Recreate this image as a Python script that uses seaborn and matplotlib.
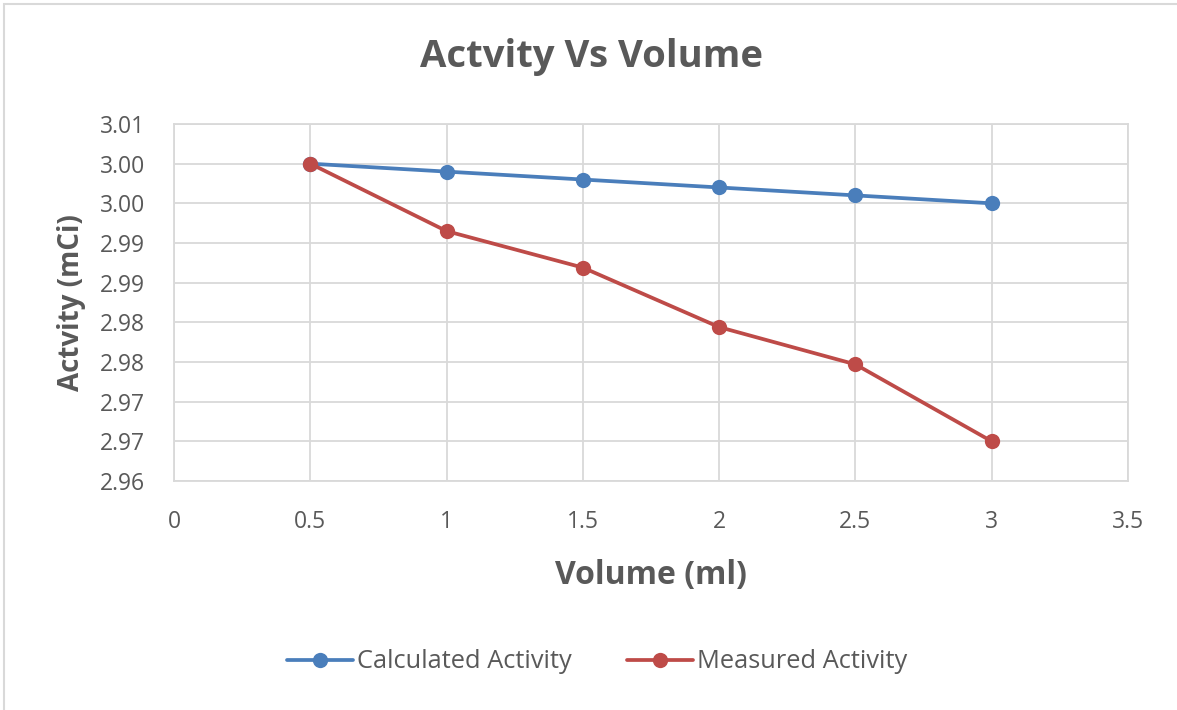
import matplotlib
matplotlib.use("Agg")
import matplotlib.pyplot as plt
import seaborn as sns
import pandas as pd
from matplotlib.patches import Rectangle
from matplotlib.lines import Line2D

# Data
volume = [0.5, 1.0, 1.5, 2.0, 2.5, 3.0]
calculated_activity = [3.000, 2.999, 2.998, 2.997, 2.996, 2.995]
measured_activity = [3.000, 2.9915, 2.9869, 2.9794, 2.9747, 2.965]
series_names = ["Calculated Activity", "Measured Activity"]

x_ticks = [0, 0.5, 1, 1.5, 2, 2.5, 3, 3.5]
x_tick_labels = ["0", "0.5", "1", "1.5", "2", "2.5", "3", "3.5"]
y_ticks = [2.960, 2.965, 2.970, 2.975, 2.980, 2.985, 2.990, 2.995, 3.000, 3.005]
y_tick_labels = ["2.96", "2.97", "2.97", "2.98", "2.98", "2.99", "2.99", "3.00", "3.00", "3.01"]

df = pd.DataFrame({
    "Volume": volume * 2,
    "Activity": calculated_activity + measured_activity,
    "Series": [series_names[0]] * len(volume) + [series_names[1]] * len(volume),
})

sns.set_theme(style="white")
plt.rcParams["font.family"] = ["Open Sans", "DejaVu Sans"]

text_gray = "#595959"
grid_gray = "#d9d9d9"
palette = {series_names[0]: "#4a7ebb", series_names[1]: "#be4b48"}

fig = plt.figure(figsize=(11.77, 7.10), dpi=100)
ax = fig.add_axes([174 / 1177, 1 - 481 / 710, (1128 - 174) / 1177, (481 - 124) / 710])

sns.lineplot(
    data=df, x="Volume", y="Activity", hue="Series", palette=palette,
    marker="o", markersize=11, markeredgewidth=0, linewidth=2.7,
    ax=ax, legend=False, zorder=3,
)

ax.set_xlim(0, 3.5)
ax.set_ylim(2.960, 3.005)
ax.set_xticks(x_ticks)
ax.set_xticklabels(x_tick_labels)
ax.set_yticks(y_ticks)
ax.set_yticklabels(y_tick_labels)
ax.tick_params(axis="both", length=0, labelsize=16.5, labelcolor=text_gray)
ax.tick_params(axis="x", pad=21)
ax.tick_params(axis="y", pad=21)

ax.grid(True, color=grid_gray, linewidth=1.3)
ax.set_axisbelow(True)
for spine in ax.spines.values():
    spine.set_color(grid_gray)
    spine.set_linewidth(1.3)

ax.set_xlabel("Volume (ml)", fontsize=23, fontweight="bold", color=text_gray, labelpad=18)
ax.set_ylabel("Actvity (mCi)", fontsize=20, fontweight="bold", color=text_gray, labelpad=10)

fig.text(591 / 1177, 1 - 57 / 710, "Actvity Vs Volume", ha="center", va="center",
         fontsize=27.5, fontweight="bold", color=text_gray)

# Legend below the plot area
handles = [Line2D([0], [0], color=palette[n], linewidth=2.7, marker="o",
                  markersize=11, markeredgewidth=0) for n in series_names]
fig.legend(handles, series_names, loc="center", bbox_to_anchor=(597 / 1177, 1 - 662 / 710),
           ncol=2, frameon=False, fontsize=18.3, handlelength=2.6, handletextpad=0.15,
           columnspacing=2.2, labelcolor=text_gray)

# Chart frame
fig.patches.append(Rectangle((4 / 1177, -0.1), 1.2, (706 / 710) + 0.1, transform=fig.transFigure,
                             fill=False, edgecolor="#d9d9d9", linewidth=1.5))

fig.savefig("out.png", dpi=100, facecolor="white")
